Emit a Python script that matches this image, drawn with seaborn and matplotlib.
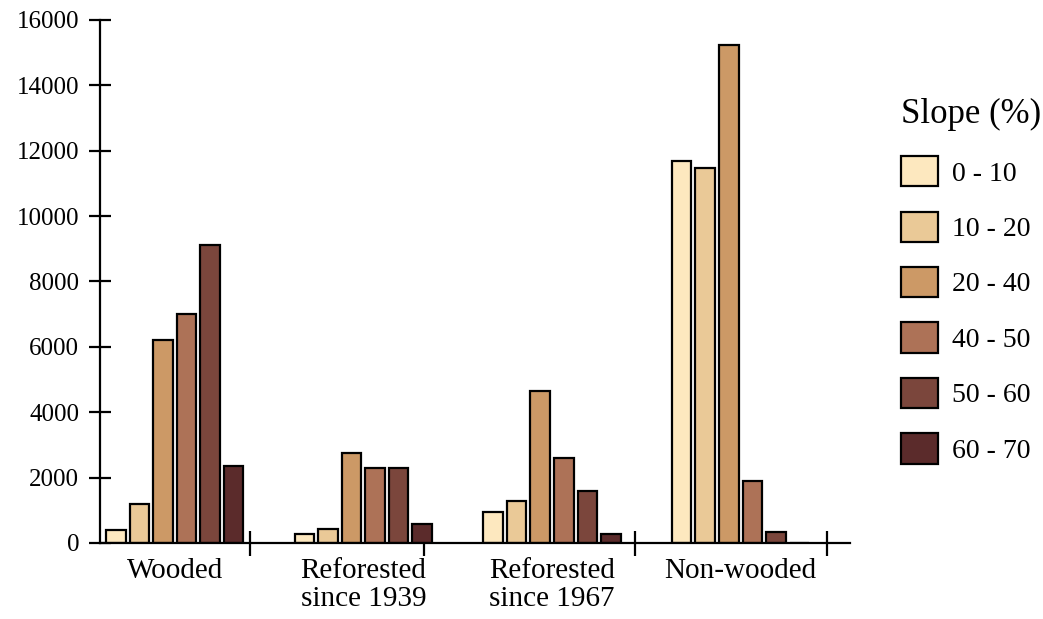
import numpy as np
import pandas as pd
import seaborn as sns
import matplotlib.pyplot as plt
from matplotlib.ticker import FixedLocator

### DATA ###
land_use = ["Wooded", "Reforested\nsince 1939", "Reforested\nsince 1967", "Non-wooded"]
slopes = ["0 - 10", "10 - 20", "20 - 40", "40 - 50", "50 - 60", "60 - 70"]

wooded = [400, 1190, 6210, 6990, 9120, 2360]
reforested_1939 = [260, 420, 2760, 2290, 2290, 570]
reforested_1967 = [960, 1280, 4640, 2610, 1590, 260]
non_wooded = [11700, 11480, 15230, 1900, 330, 0]

colours = ["#FDE8BF", "#EAC997", "#CC9966", "#AD7257", "#7B463C", "#5B2B2B"]

rows = []
for name, values in zip(land_use, [wooded, reforested_1939, reforested_1967, non_wooded]):
    for slope, v in zip(slopes, values):
        rows.append((name, slope, v))
df = pd.DataFrame(rows, columns=["Land use", "Slope (%)", "Area"])

### PLOT ###
sns.set_style("ticks")
plt.rcParams["font.family"] = ["Liberation Serif", "DejaVu Serif"]
for key in ["text.color", "axes.labelcolor", "xtick.color", "ytick.color", "axes.edgecolor"]:
    plt.rcParams[key] = "black"

fig = plt.figure(figsize=(10.43, 6.19), dpi=100)
ax = fig.add_axes([0.0959, 0.1228, 0.719, 0.845])

sns.barplot(
    data=df, x="Land use", y="Area", hue="Slope (%)",
    hue_order=slopes, order=land_use,
    palette=dict(zip(slopes, colours)), saturation=1,
    width=0.75, gap=0.17,
    edgecolor="black", linewidth=1.6,
    ax=ax,
)

ax.set_ylim(0, 16000)
ax.set_yticks(np.arange(0, 16001, 2000))
ax.set_xlim(-0.396, 3.58)
ax.set_xlabel("")
ax.set_ylabel("")

sns.despine(ax=ax)
for side in ["left", "bottom"]:
    ax.spines[side].set_linewidth(1.6)

ax.tick_params(axis="y", direction="inout", length=16, width=1.6,
               labelsize=18, pad=7)
ax.tick_params(axis="x", which="major", length=0, labelsize=21, pad=11)
for lbl in ax.get_xticklabels():
    lbl.set_linespacing(1.1)
# group separator ticks
ax.xaxis.set_minor_locator(FixedLocator([0.40, 1.32, 2.44, 3.46]))
ax.tick_params(axis="x", which="minor", direction="inout", length=18, width=1.6)

handles, labels = ax.get_legend_handles_labels()
ax.legend(
    handles, labels, title="Slope (%)",
    loc="upper left", bbox_to_anchor=(0.851, 0.864),
    bbox_transform=fig.transFigure,
    frameon=False, fontsize=20, title_fontsize=25,
    handlelength=1.33, handleheight=1.3, labelspacing=0.9,
    handletextpad=0.5, borderpad=0, alignment="left",
)

fig.savefig("out.png", dpi=100)
